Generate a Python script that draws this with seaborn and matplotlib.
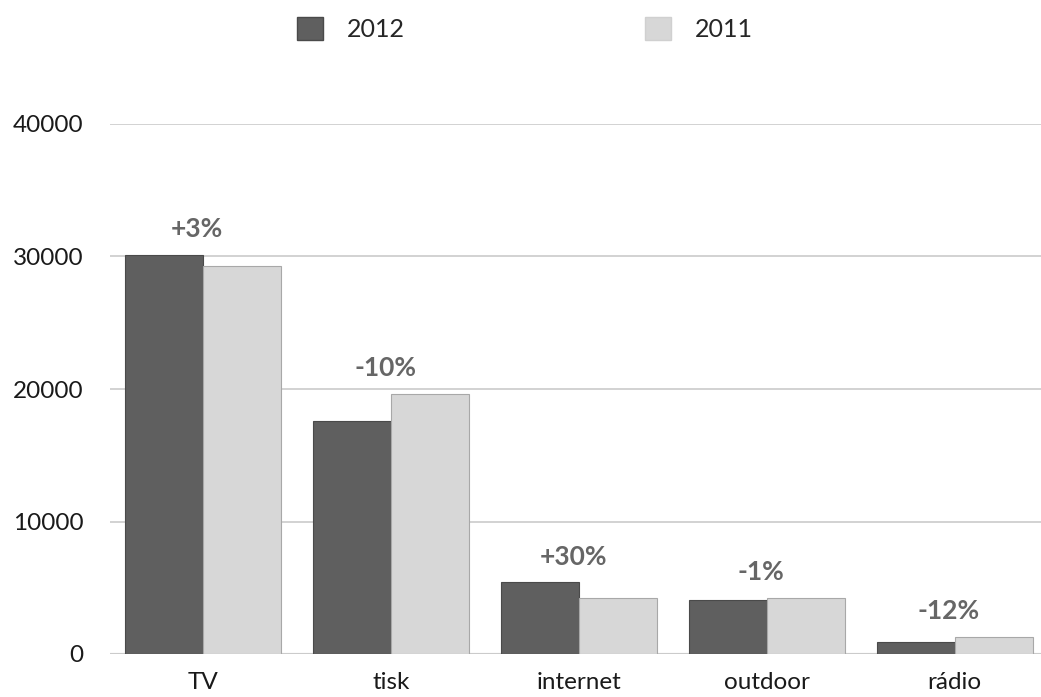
import pandas as pd
import matplotlib.pyplot as plt
import seaborn as sns
from matplotlib.patches import Patch

# values
media = ['TV', 'tisk', 'internet', 'outdoor', 'rádio']
y2012 = [30100, 17600, 5400, 4080, 930]
y2011 = [29300, 19600, 4250, 4200, 1260]
change = ['+3%', '-10%', '+30%', '-1%', '-12%']

df = pd.DataFrame({
    'media': media * 2,
    'value': y2012 + y2011,
    'year': ['2012'] * len(media) + ['2011'] * len(media),
})

sns.set_theme(style='white')
plt.rcParams['font.family'] = ['Lato', 'DejaVu Sans']

colors = {'2012': '#5f5f5f', '2011': '#d7d7d7'}

fig = plt.figure(figsize=(10.41, 6.97), dpi=100)
ax = fig.add_axes([110 / 1041, 43 / 697, 1 - 110 / 1041, (654 - 124) / 697])

sns.barplot(data=df, x='media', y='value', hue='year', hue_order=['2012', '2011'],
            palette=colors, width=0.83, ax=ax, legend=False, saturation=1)
for p in ax.patches:
    p.set_edgecolor('#a8a8a8' if p.get_facecolor()[0] > 0.6 else '#4a4a4a')
    p.set_linewidth(0.8)

ax.set_ylim(0, 40000)
ax.set_xlim(-0.495, 4.46)
ax.set_yticks([0, 10000, 20000, 30000, 40000])
ax.yaxis.grid(True, color='#cfcfcf', linewidth=1.3)
ax.set_axisbelow(True)
for s in ax.spines.values():
    s.set_visible(False)
ax.axhline(0, color='#b0b0b0', linewidth=1.5, zorder=0)
ax.set_xlabel('')
ax.set_ylabel('')
ax.tick_params(axis='y', labelsize=17.5, pad=19, length=0, labelcolor='#1a1a1a')
ax.tick_params(axis='x', labelsize=17.5, pad=13, length=0, labelcolor='#1a1a1a')

# percentage change above each group
for i, txt in enumerate(change):
    top = max(y2012[i], y2011[i])
    ax.annotate(txt, (i - 0.03, top), xytext=(0, 10), textcoords='offset points',
                ha='center', va='bottom', fontsize=19, fontweight='bold', color='#666666')

handles = [Patch(facecolor=colors['2012'], edgecolor='#4a4a4a', label='2012'),
           Patch(facecolor=colors['2011'], edgecolor='#d0d0d0', label='2011')]
fig.legend(handles=handles, loc='center', bbox_to_anchor=(0.504, 0.958), ncol=2,
           frameon=False, fontsize=18, handlelength=1.05, handleheight=1.05,
           handletextpad=0.95, columnspacing=9.6)

fig.savefig('out.png', dpi=100)
